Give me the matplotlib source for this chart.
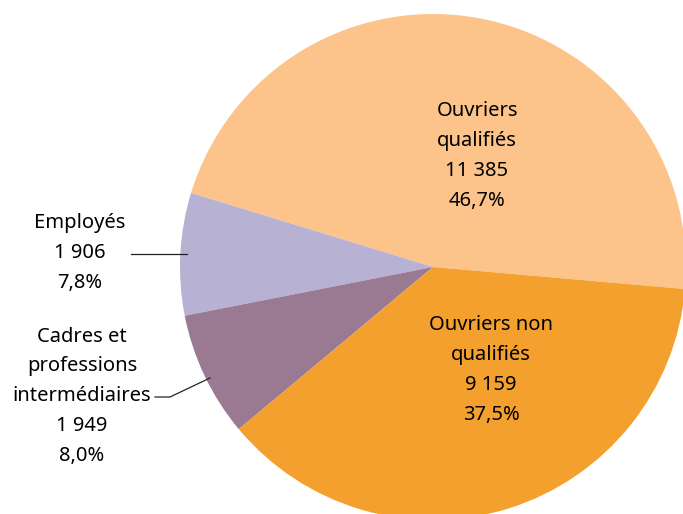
import matplotlib.pyplot as plt

labels = ["Ouvriers\nqualifiés", "Employés", "Cadres et\nprofessions\nintermédiaires", "Ouvriers non\nqualifiés"]
values = [11385, 1906, 1949, 9159]
value_txt = ["11 385", "1 906", "1 949", "9 159"]
pct_txt = ["46,7%", "7,8%", "8,0%", "37,5%"]
colors = ["#FCC38B", "#B7B1D3", "#9A7A92", "#F4A02E"]

plt.rcParams['font.family'] = ['Noto Sans', 'DejaVu Sans']

W, H = 683, 514
fig = plt.figure(figsize=(W / 100, H / 100), dpi=100)
ax = fig.add_axes([0, 0, 1, 1])

# pie in pixel coordinates (y measured from bottom)
cx, cy, r = 433, H - 267, 253
ax.pie(values, colors=colors, startangle=-5, counterclock=True,
       center=(cx, cy), radius=r, wedgeprops=dict(linewidth=0))
ax.set_xlim(0, W)
ax.set_ylim(0, H)
ax.set_aspect('equal')
ax.axis('off')

fs = 14.5
ls = 1.65
txt = [labels[i] + "\n" + value_txt[i] + "\n" + pct_txt[i] for i in range(4)]

ax.text(477, H - 156, txt[0], ha='center', va='center', fontsize=fs, linespacing=ls)
ax.text(491, H - 370, txt[3], ha='center', va='center', fontsize=fs, linespacing=ls)
ax.text(80, H - 253, txt[1], ha='center', va='center', fontsize=fs, linespacing=ls)
ax.text(82, H - 396, txt[2], ha='center', va='center', fontsize=fs, linespacing=ls)

# leader lines
ax.plot([131, 187], [H - 254, H - 254], color='#222222', lw=0.9)
ax.plot([155, 170, 210], [H - 397, H - 397, H - 378], color='#222222', lw=0.9)

fig.savefig("out.png", dpi=100)
